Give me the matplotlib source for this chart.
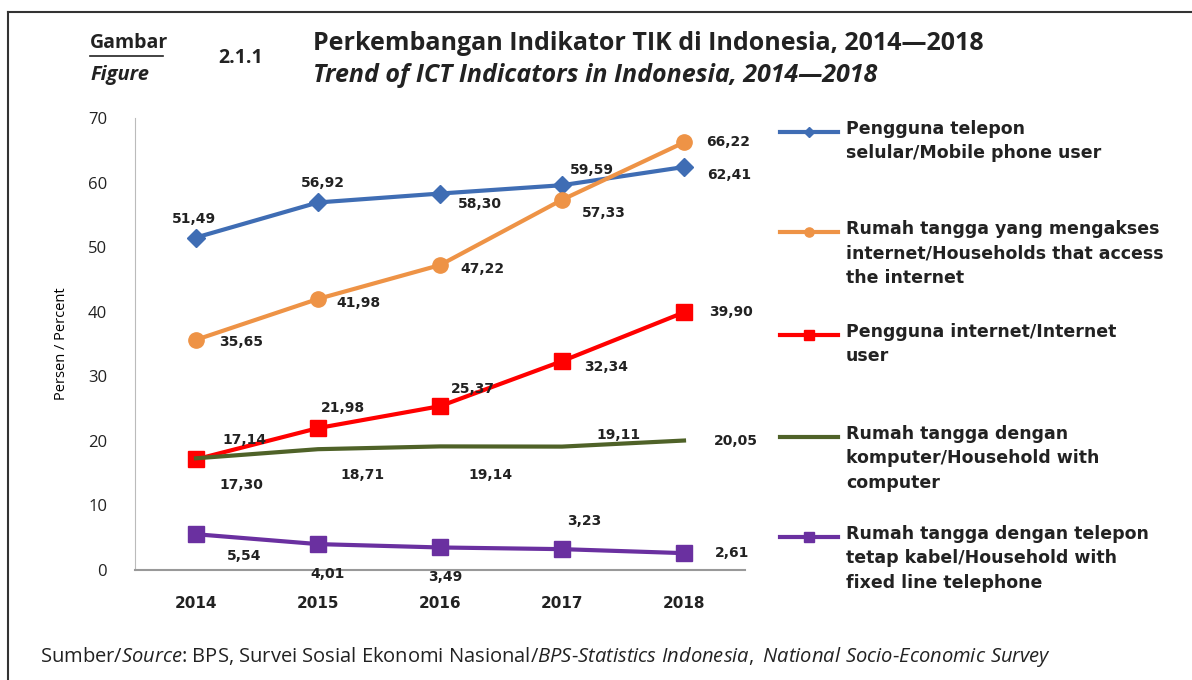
import matplotlib.pyplot as plt
from matplotlib.lines import Line2D

YEARS = ["2014", "2015", "2016", "2017", "2018"]

MOBILE = [51.49, 56.92, 58.30, 59.59, 62.41]
HH_INTERNET = [35.65, 41.98, 47.22, 57.33, 66.22]
INTERNET_USER = [17.14, 21.98, 25.37, 32.34, 39.90]
HH_COMPUTER = [17.30, 18.71, 19.14, 19.11, 20.05]
HH_FIXED = [5.54, 4.01, 3.49, 3.23, 2.61]

LABELS = [
    "Pengguna telepon\nselular/Mobile phone user",
    "Rumah tangga yang mengakses\ninternet/Households that access\nthe internet",
    "Pengguna internet/Internet\nuser",
    "Rumah tangga dengan\nkomputer/Household with\ncomputer",
    "Rumah tangga dengan telepon\ntetap kabel/Household with\nfixed line telephone",
]

# per-series style: color, marker, markersize
STYLES = [
    ("#3F6DB4", "D", 9),
    ("#EE9346", "o", 11),
    ("#FF0000", "s", 12),
    ("#4F6228", None, 0),
    ("#6A30A0", "s", 11),
]

# label offsets in pixels (dx, dy) for each point, per series
OFFSETS = [
    [(-2, 19), (5, 19), (40, -10), (30, 15), (45, -8)],
    [(45, -2), (40, -4), (42, -4), (42, -13), (44, 0)],
    [(48, 19), (25, 20), (33, 17), (44, -6), (47, 0)],
    [(45, -27), (44, -26), (50, -29), (56, 12), (52, 0)],
    [(48, -22), (10, -30), (5, -30), (22, 28), (48, 0)],
]

SERIES = [MOBILE, HH_INTERNET, INTERNET_USER, HH_COMPUTER, HH_FIXED]

FONT = "Open Sans"
BOLD_FONT = "DejaVu Sans"
plt.rcParams["mathtext.fontset"] = "custom"
plt.rcParams["mathtext.rm"] = FONT
plt.rcParams["mathtext.it"] = FONT + ":italic"

fig = plt.figure(figsize=(11.92, 6.8), dpi=100)
ax = fig.add_axes([135 / 1192, 1 - 570 / 680, 610 / 1192, 452 / 680])

x = list(range(len(YEARS)))
for vals, (color, marker, ms) in zip(SERIES, STYLES):
    ax.plot(x, vals, color=color, linewidth=3, marker=marker, markersize=ms,
            markeredgecolor=color, zorder=3)

for vals, offs in zip(SERIES, OFFSETS):
    for xi, v, (dx, dy) in zip(x, vals, offs):
        ax.annotate(f"{v:.2f}".replace(".", ","), (xi, v), xytext=(dx * 0.72, dy * 0.72),
                    textcoords="offset points", ha="center", va="center",
                    fontsize=10, fontweight="bold", family=BOLD_FONT, color="#222222",
                    zorder=4)

ax.set_xlim(-0.5, 4.5)
ax.set_ylim(0, 70)
ax.set_xticks(x)
ax.set_xticklabels(YEARS, fontsize=11, fontweight="bold", family=BOLD_FONT)
ax.set_yticks(range(0, 71, 10))
ax.tick_params(axis="both", length=0, labelcolor="#222222")
ax.tick_params(axis="x", pad=19)
ax.tick_params(axis="y", pad=20, labelsize=12)
for lab in ax.get_yticklabels():
    lab.set_family(FONT)
for s in ["top", "right"]:
    ax.spines[s].set_visible(False)
ax.spines["left"].set_color("#BBBBBB")
ax.spines["bottom"].set_color("#999999")
ax.spines["bottom"].set_linewidth(1.5)
ax.set_ylabel("Persen / Percent", fontsize=10.5, family=FONT, labelpad=14)

# legend drawn by hand, one block per series
leg_y = [132, 232, 335, 437, 537]
for (color, marker, ms), label, yy in zip(STYLES, LABELS, leg_y):
    fy = 1 - yy / 680
    fig.add_artist(Line2D([780 / 1192, 838 / 1192], [fy, fy], color=color, linewidth=3,
                          transform=fig.transFigure))
    if marker:
        fig.add_artist(Line2D([809 / 1192], [fy], color=color, marker=marker,
                              markersize=ms * 0.6, transform=fig.transFigure))
    fig.text(846 / 1192, fy + 12 / 680, label, ha="left", va="top", fontsize=12.5,
             fontweight="bold", family=BOLD_FONT, color="#222222", linespacing=1.45)

# titles
fig.text(90 / 1192, 1 - 43 / 680, "Gambar", fontsize=14, fontweight="bold", family=FONT,
         va="center", color="#222222")
fig.add_artist(Line2D([90 / 1192, 163 / 1192], [1 - 56 / 680] * 2, color="#222222",
                      linewidth=1.2, transform=fig.transFigure))
fig.text(90 / 1192, 1 - 75 / 680, "Figure", fontsize=14.5, fontweight="bold", style="italic",
         family=FONT, va="center", color="#222222")
fig.text(218 / 1192, 1 - 58 / 680, "2.1.1", fontsize=14, fontweight="bold", family=FONT,
         va="center", color="#222222")
fig.text(313 / 1192, 1 - 43 / 680, "Perkembangan Indikator TIK di Indonesia, 2014\u20142018",
         fontsize=18, fontweight="bold", family=FONT, va="center", color="#222222")
fig.text(313 / 1192, 1 - 75 / 680, "Trend of ICT Indicators in Indonesia, 2014\u20142018",
         fontsize=18, fontweight="bold", style="italic", family=FONT, va="center",
         color="#222222")

fig.text(40 / 1192, 1 - 657 / 680,
         "Sumber/$\\it{Source}$: BPS, Survei Sosial Ekonomi Nasional/"
         "$\\it{BPS}$-$\\it{Statistics\\ Indonesia,\\ National\\ Socio}$-$\\it{Economic\\ Survey}$",
         fontsize=14.5, family=FONT, va="center", color="#222222")

# frame around the figure
fig.add_artist(Line2D([8 / 1192, 1], [1 - 12 / 680] * 2, color="#333333", linewidth=1.5,
                      transform=fig.transFigure))
fig.add_artist(Line2D([8 / 1192] * 2, [0, 1 - 12 / 680], color="#333333", linewidth=1.5,
                      transform=fig.transFigure))

fig.savefig("out.png", dpi=100)
